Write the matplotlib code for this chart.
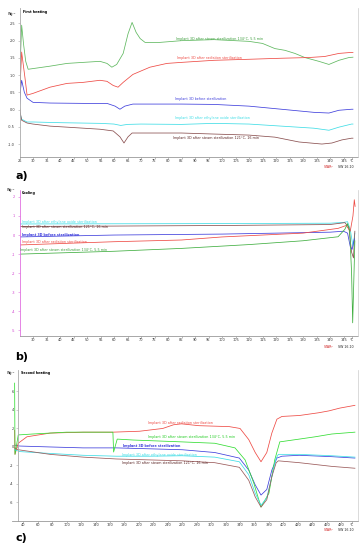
import matplotlib
matplotlib.use("Agg")
import matplotlib.pyplot as plt

# ---------------- data ----------------
# Panel a: first heating
green_a_T = [25.0, 25.4, 25.8, 26.5, 27.3, 28.2, 30, 36.3, 42.6, 48.6, 54.8, 57.4, 59.2, 61, 63.4, 65.2, 66.7, 68.2, 69.7, 71.5, 77, 85, 97, 110, 115, 119.6, 123.3, 127, 130.7, 135.9, 139.6, 143.3, 147, 148.5]
green_a_v = [0.3, 1.6, 2.45, 1.9, 1.4, 1.17, 1.19, 1.26, 1.34, 1.37, 1.40, 1.34, 1.23, 1.31, 1.63, 2.2, 2.53, 2.24, 2.06, 1.95, 1.95, 2.0, 2.03, 1.98, 1.92, 1.77, 1.72, 1.63, 1.51, 1.40, 1.31, 1.43, 1.51, 1.52]
red_a_T = [25.0, 25.4, 25.8, 26.4, 27.0, 27.8, 30, 36.3, 42.6, 48.6, 54.8, 57.4, 59.7, 61.5, 63.4, 67, 73.3, 79.6, 85, 97, 110, 122, 132, 138, 143.3, 148, 148.5]
red_a_v = [0.1, 1.0, 1.67, 1.3, 0.94, 0.42, 0.47, 0.65, 0.76, 0.79, 0.85, 0.82, 0.70, 0.65, 0.79, 1.02, 1.23, 1.34, 1.37, 1.43, 1.46, 1.49, 1.51, 1.54, 1.63, 1.66, 1.66]
blue_a_T = [25.0, 25.4, 25.8, 26.8, 27.8, 30, 36.3, 48.6, 57.4, 60.4, 62.2, 64, 67, 85, 97, 110, 122, 134, 139.6, 143.3, 148, 148.5]
blue_a_v = [0.05, 0.6, 0.85, 0.5, 0.33, 0.21, 0.19, 0.18, 0.18, 0.10, 0.01, 0.10, 0.16, 0.16, 0.15, 0.10, 0.01, -0.08, -0.10, -0.02, 0.01, 0.01]
cyan_a_T = [25.0, 25.8, 27.8, 30, 40, 55, 60, 62.5, 65, 70, 85, 97, 110, 122, 134, 139.6, 143.3, 148, 148.5]
cyan_a_v = [-0.05, -0.28, -0.36, -0.36, -0.38, -0.40, -0.42, -0.46, -0.43, -0.42, -0.43, -0.40, -0.42, -0.48, -0.54, -0.60, -0.51, -0.42, -0.42]
brown_a_T = [25.0, 25.3, 25.8, 27.8, 30, 36.3, 42.6, 54.8, 59.7, 62.2, 63.7, 65.2, 66.7, 73.3, 85, 97, 110, 119.6, 128.5, 137, 140.7, 144.4, 148, 148.5]
brown_a_v = [0.1, -0.1, -0.31, -0.39, -0.42, -0.48, -0.51, -0.57, -0.62, -0.79, -0.97, -0.79, -0.68, -0.68, -0.68, -0.71, -0.74, -0.80, -0.94, -1.0, -0.97, -0.88, -0.83, -0.83]

# Panel b: cooling
cyan_b_T = [25, 60, 100, 140, 145, 146.5, 147.5, 148.5, 149.2]
cyan_b_v = [0.58, 0.59, 0.60, 0.62, 0.66, 0.70, 0.3, -0.6, 0.1]
brown_b_T = [25, 60, 100, 140, 145.5, 147, 148, 148.7, 149.2]
brown_b_v = [0.45, 0.47, 0.5, 0.55, 0.65, 0.4, -0.9, -1.2, 0.2]
blue_b_T = [25, 60, 100, 140, 145, 146.5, 147.5, 148.2, 149]
blue_b_v = [-0.1, 0.0, 0.05, 0.15, 0.2, 0.1, -0.6, -0.75, -0.2]
red_b_T = [25, 60, 85, 100, 130, 143, 146, 147.5, 148.5, 149, 149.3]
red_b_v = [-0.52, -0.35, -0.26, -0.1, 0.1, 0.35, 0.5, 0.2, 1.0, 1.85, 1.5]
green_b_T = [25, 60, 85, 110, 130, 143, 145.5, 146.5, 147.3, 148, 148.4, 148.8, 149.2]
green_b_v = [-1.0, -0.85, -0.7, -0.5, -0.3, -0.09, 0.3, 0.6, 0.2, -2.0, -4.6, -2.5, -0.3]

# Panel c: second heating
red_c_T = [28, 28.5, 33, 45, 77, 123, 164, 201, 233, 248, 259, 283, 325, 340, 352, 361, 369, 377, 384, 391, 398, 422, 449, 463, 478, 499]
red_c_v = [1.8, -0.8, 0.4, 1.1, 1.5, 1.6, 1.6, 1.7, 2.0, 2.4, 2.5, 2.3, 2.2, 2.0, 0.8, -0.6, -1.6, -0.6, 1.5, 3.0, 3.3, 3.4, 3.7, 3.9, 4.2, 4.5]
green_c_T = [28, 28.5, 33, 53, 100, 146, 164, 165, 170, 192, 259, 305, 333, 347, 359, 369, 380, 388, 395, 422, 444, 467, 499]
green_c_v = [6.9, -0.8, 1.3, 1.4, 1.6, 1.6, 1.6, -0.55, 0.85, 0.75, 0.55, 0.4, -0.1, -1.4, -3.9, -6.5, -5.0, -1.4, 0.55, 0.85, 1.1, 1.4, 1.6]
blue_c_T = [28, 35, 77, 123, 169, 215, 260, 305, 339, 352, 361, 369, 377, 384, 391, 398, 422, 467, 499]
blue_c_v = [0.2, 0.1, 0.0, -0.1, -0.1, -0.2, -0.3, -0.6, -1.2, -2.5, -4.1, -5.2, -4.6, -2.5, -1.2, -1.0, -0.9, -1.05, -1.2]
cyan_c_T = [28, 35, 77, 123, 169, 215, 260, 305, 339, 352, 361, 369, 377, 384, 390, 393, 422, 467, 499]
cyan_c_v = [-0.3, -0.5, -0.7, -0.9, -1.0, -1.0, -0.95, -1.1, -1.6, -3.0, -5.0, -6.3, -5.5, -3.2, -1.2, -0.8, -0.8, -0.95, -1.1]
brown_c_T = [28, 33, 77, 123, 169, 215, 260, 305, 339, 352, 361, 369, 377, 384, 390, 393, 422, 467, 499]
brown_c_v = [-0.1, -0.3, -0.8, -1.1, -1.3, -1.4, -1.5, -1.7, -2.2, -3.6, -5.4, -6.5, -5.7, -3.2, -1.7, -1.5, -1.7, -2.1, -2.3]

lab_green = "Implant 3D after steam sterilization 134°C, 5.5 min"
lab_red = "Implant 3D after radiation sterilization"
lab_blue = "Implant 3D before sterilization"
lab_cyan = "Implant 3D after ethylene oxide sterilization"
lab_brown = "Implant 3D after steam sterilization 121°C, 16 min"

xt_a = list(range(25, 150, 5))
xt_b = list(range(30, 150, 5))
xt_c = list(range(40, 500, 20))
yt_a = [2.5, 2.0, 1.5, 1.0, 0.5, 0.0, -0.5, -1.0]
yt_b = [2, 1, 0, -1, -2, -3, -4, -5]
yt_c = [6, 4, 2, 0, -2, -4, -6]

# ---------------- figure ----------------
W, H = 364, 550
fig = plt.figure(figsize=(W / 100, H / 100), dpi=100)
fig.patch.set_facecolor("white")

C_GREEN = "#3f9f3f"
C_GREEN2 = "#33dd33"
C_RED = "#ee4a44"
C_BLUE = "#3f3fdc"
C_CYAN = "#3fdde6"
C_BROWN = "#5a2424"
FS = 2.4
TFS = 2.5


def add_ax(l, t, r, b):
    return fig.add_axes([l / W, 1 - b / H, (r - l) / W, (b - t) / H])


def ftext(x, y, s, color="black", size=FS, weight="normal", ha="left"):
    fig.text(x / W, 1 - y / H, s, color=color, fontsize=size, fontweight=weight,
             ha=ha, va="center")


def stamp(y):
    ftext(334, y, "STARᵉ", color="#d02020", size=2.3, ha="right")
    ftext(338, y, "SW 16.10", color="#222222", size=2.3)


def style(ax, xticks, xlim, ylim, yticks, ylabfmt, ycol="#333333", lcol="#aaaaaa", lstyle="-"):
    ax.set_xlim(*xlim)
    ax.set_ylim(*ylim)
    unit_pos = xlim[1] - (xlim[1] - xlim[0]) * 0.018
    ax.set_xticks(list(xticks) + [unit_pos])
    ax.set_xticklabels([str(v) for v in xticks] + ["°C"], fontsize=TFS, color="#333333")
    ax.set_yticks(yticks)
    ax.set_yticklabels([ylabfmt(v) for v in yticks], fontsize=TFS, color=ycol)
    ax.spines["top"].set_visible(False)
    ax.spines["right"].set_color("#cccccc")
    ax.spines["right"].set_linewidth(0.5)
    ax.spines["bottom"].set_color("#999999")
    ax.spines["bottom"].set_linewidth(0.6)
    ax.spines["bottom"].set_linestyle((0, (1, 1)))
    ax.spines["left"].set_color(lcol)
    ax.spines["left"].set_linewidth(0.6)
    ax.spines["left"].set_linestyle(lstyle)
    ax.tick_params(axis="x", length=1.2, width=0.4, color="#888888", pad=0.5)
    ax.tick_params(axis="y", length=1.2, width=0.4, color=lcol, pad=2)
    ax.set_facecolor("white")


LW = 0.55

# ---- panel a ----
axa = add_ax(19.5, 8, 358, 157)
xr_a = (25, 25 + (358 - 19.5) / 2.7)
axa.plot(green_a_T, green_a_v, color="#5fb85f", lw=LW)
axa.plot(red_a_T, red_a_v, color=C_RED, lw=LW)
axa.plot(blue_a_T, blue_a_v, color=C_BLUE, lw=LW)
axa.plot(cyan_a_T, cyan_a_v, color=C_CYAN, lw=LW)
axa.plot(brown_a_T, brown_a_v, color="#8a5050", lw=LW)
style(axa, xt_a, xr_a, (-1.376, 2.948), yt_a, lambda v: f"{v:.1f}")

ftext(8, 14, "Wg⁻¹", size=2.4)
ftext(23, 12, "First heating", size=2.4, weight="bold")
ftext(176, 39, lab_green, color=C_GREEN)
ftext(177, 58, lab_red, color=C_RED)
ftext(175, 99, lab_blue, color=C_BLUE)
ftext(175, 118, lab_cyan, color=C_CYAN)
ftext(173, 138, lab_brown, color=C_BROWN)
stamp(167)
ftext(15, 176, "a)", size=8, weight="bold")

# ---- panel b ----
axb = add_ax(19.5, 190, 358, 336)
axb.plot(cyan_b_T, cyan_b_v, color=C_CYAN, lw=LW)
axb.plot(brown_b_T, brown_b_v, color="#8a5050", lw=LW)
axb.plot(blue_b_T, blue_b_v, color=C_BLUE, lw=LW)
axb.plot(red_b_T, red_b_v, color=C_RED, lw=LW)
axb.plot(green_b_T, green_b_v, color="#3fae3f", lw=LW)
style(axb, xt_b, xr_a, (-5.29, 2.36), yt_b, lambda v: f"{v:d}",
      ycol="#d040d0", lcol="#e070e0", lstyle=(0, (1, 1)))

ftext(7, 190, "Wg⁻¹", size=2.4)
ftext(22, 193, "Cooling", size=2.4, weight="bold")
ftext(22.5, 222.5, lab_cyan, color=C_CYAN)
ftext(21.5, 227.5, lab_brown, color=C_BROWN)
ftext(22.5, 235, lab_blue, color=C_BLUE, weight="bold")
ftext(21.5, 242, lab_red, color=C_RED)
ftext(20.5, 250.5, lab_green, color=C_GREEN)
stamp(347)
ftext(15, 357, "b)", size=8, weight="bold")

# ---- panel c ----
axc = add_ax(12, 370, 358, 520.5)
axc.spines["left"].set_position(("data", 33))
xr_c = (40 - (23.3 - 12) / 0.7225, 40 + (358 - 23.3) / 0.7225)
axc.plot(blue_c_T, blue_c_v, color=C_BLUE, lw=LW)
axc.plot(red_c_T, red_c_v, color=C_RED, lw=LW)
axc.plot(green_c_T, green_c_v, color=C_GREEN2, lw=LW)
axc.plot(cyan_c_T, cyan_c_v, color=C_CYAN, lw=LW)
axc.plot(brown_c_T, brown_c_v, color="#9a5a5a", lw=LW)
style(axc, xt_c, xr_c, (-7.95, 8.32), yt_c, lambda v: f"{v:d}")

ftext(7, 373, "Wg⁻¹", size=2.4)
ftext(21, 373, "Second heating", size=2.4, weight="bold")
ftext(148, 423, lab_red, color=C_RED)
ftext(148, 437, lab_green, color="#22cc22")
ftext(123, 446, lab_blue, color=C_BLUE, weight="bold")
ftext(122, 455, lab_cyan, color=C_CYAN)
ftext(122, 463, lab_brown, color=C_BROWN)
stamp(530)
ftext(15, 538, "c)", size=8, weight="bold")

fig.savefig("out.png", dpi=100, facecolor="white")
